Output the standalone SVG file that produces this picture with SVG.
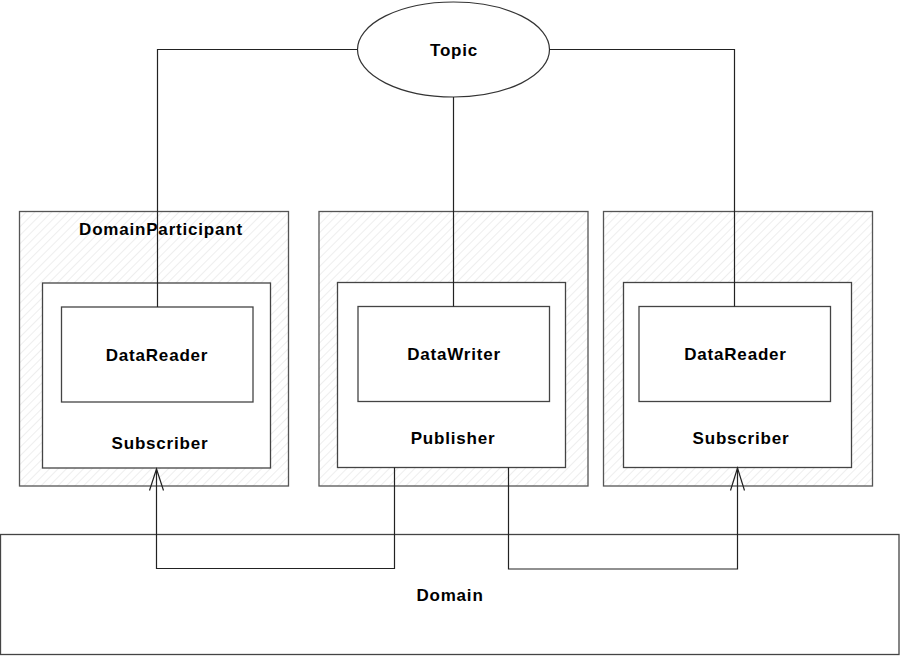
<svg xmlns="http://www.w3.org/2000/svg" width="901" height="656" viewBox="0 0 901 656">
<defs>
<pattern id="hatch" patternUnits="userSpaceOnUse" width="6" height="6" patternTransform="rotate(45)">
<rect width="6" height="6" fill="#fff"/>
<line x1="0" y1="0" x2="0" y2="6" stroke="#e4e4e4" stroke-width="1.2"/>
</pattern>
</defs>
<style>
.box{fill:#fff;stroke:#444;stroke-width:1.3}
.part{fill:url(#hatch);stroke:#555;stroke-width:1.3}
.lbl{font-family:"Liberation Sans",Arial,sans-serif;font-weight:bold;font-size:17px;letter-spacing:0.8px;text-anchor:middle;fill:#000}
.conn{fill:none;stroke:#222;stroke-width:1.2}
</style>
<rect width="901" height="656" fill="#fff"/>
<g id="domain">
<rect class="box" x="0.5" y="534.5" width="898.5" height="120"/>
<text class="lbl" x="450" y="601">Domain</text>
</g>
<g id="participant1">
<rect class="part" x="19.5" y="211.5" width="269" height="274.5"/>
<text class="lbl" x="161" y="234.5">DomainParticipant</text>
</g>
<g id="participant2">
<rect class="part" x="319" y="211.5" width="269" height="274.5"/>
</g>
<g id="participant3">
<rect class="part" x="603.5" y="211.5" width="269" height="274.5"/>
</g>
<g id="subscriber1">
<rect class="box" x="42.5" y="283" width="228" height="185"/>
<text class="lbl" x="160" y="449">Subscriber</text>
</g>
<g id="publisher">
<rect class="box" x="337.5" y="282.5" width="228" height="185"/>
<text class="lbl" x="453" y="443.5">Publisher</text>
</g>
<g id="subscriber2">
<rect class="box" x="623.5" y="282.5" width="228" height="185"/>
<text class="lbl" x="741" y="443.5">Subscriber</text>
</g>
<g id="datareader1">
<rect class="box" x="61.5" y="307" width="191.5" height="95"/>
<text class="lbl" x="157" y="360.5">DataReader</text>
</g>
<g id="datawriter">
<rect class="box" x="358" y="306.5" width="191.5" height="95"/>
<text class="lbl" x="454" y="359.5">DataWriter</text>
</g>
<g id="datareader2">
<rect class="box" x="639" y="306.5" width="191.5" height="95"/>
<text class="lbl" x="735.5" y="359.5">DataReader</text>
</g>
<g id="topic">
<ellipse cx="453.5" cy="49.5" rx="96" ry="47.5" fill="#fff" stroke="#333" stroke-width="1.2"/>
<text class="lbl" x="454" y="55.5">Topic</text>
</g>
<g id="connectors">
<path class="conn" d="M357.5,49.5 H157.5 V307"/>
<path class="conn" d="M549.5,49.5 H734.5 V306.5"/>
<path class="conn" d="M453.5,97 V306.5"/>
<path class="conn" d="M394.5,467.5 V568.5 H156.5 V469"/>
<path class="conn" d="M149.5,490.5 L156.5,469 L163.5,490.5"/>
<path class="conn" d="M508.5,467.5 V569 H737.5 V468"/>
<path class="conn" d="M730.5,490.5 L737.5,468 L744.5,490.5"/>
</g>
</svg>
